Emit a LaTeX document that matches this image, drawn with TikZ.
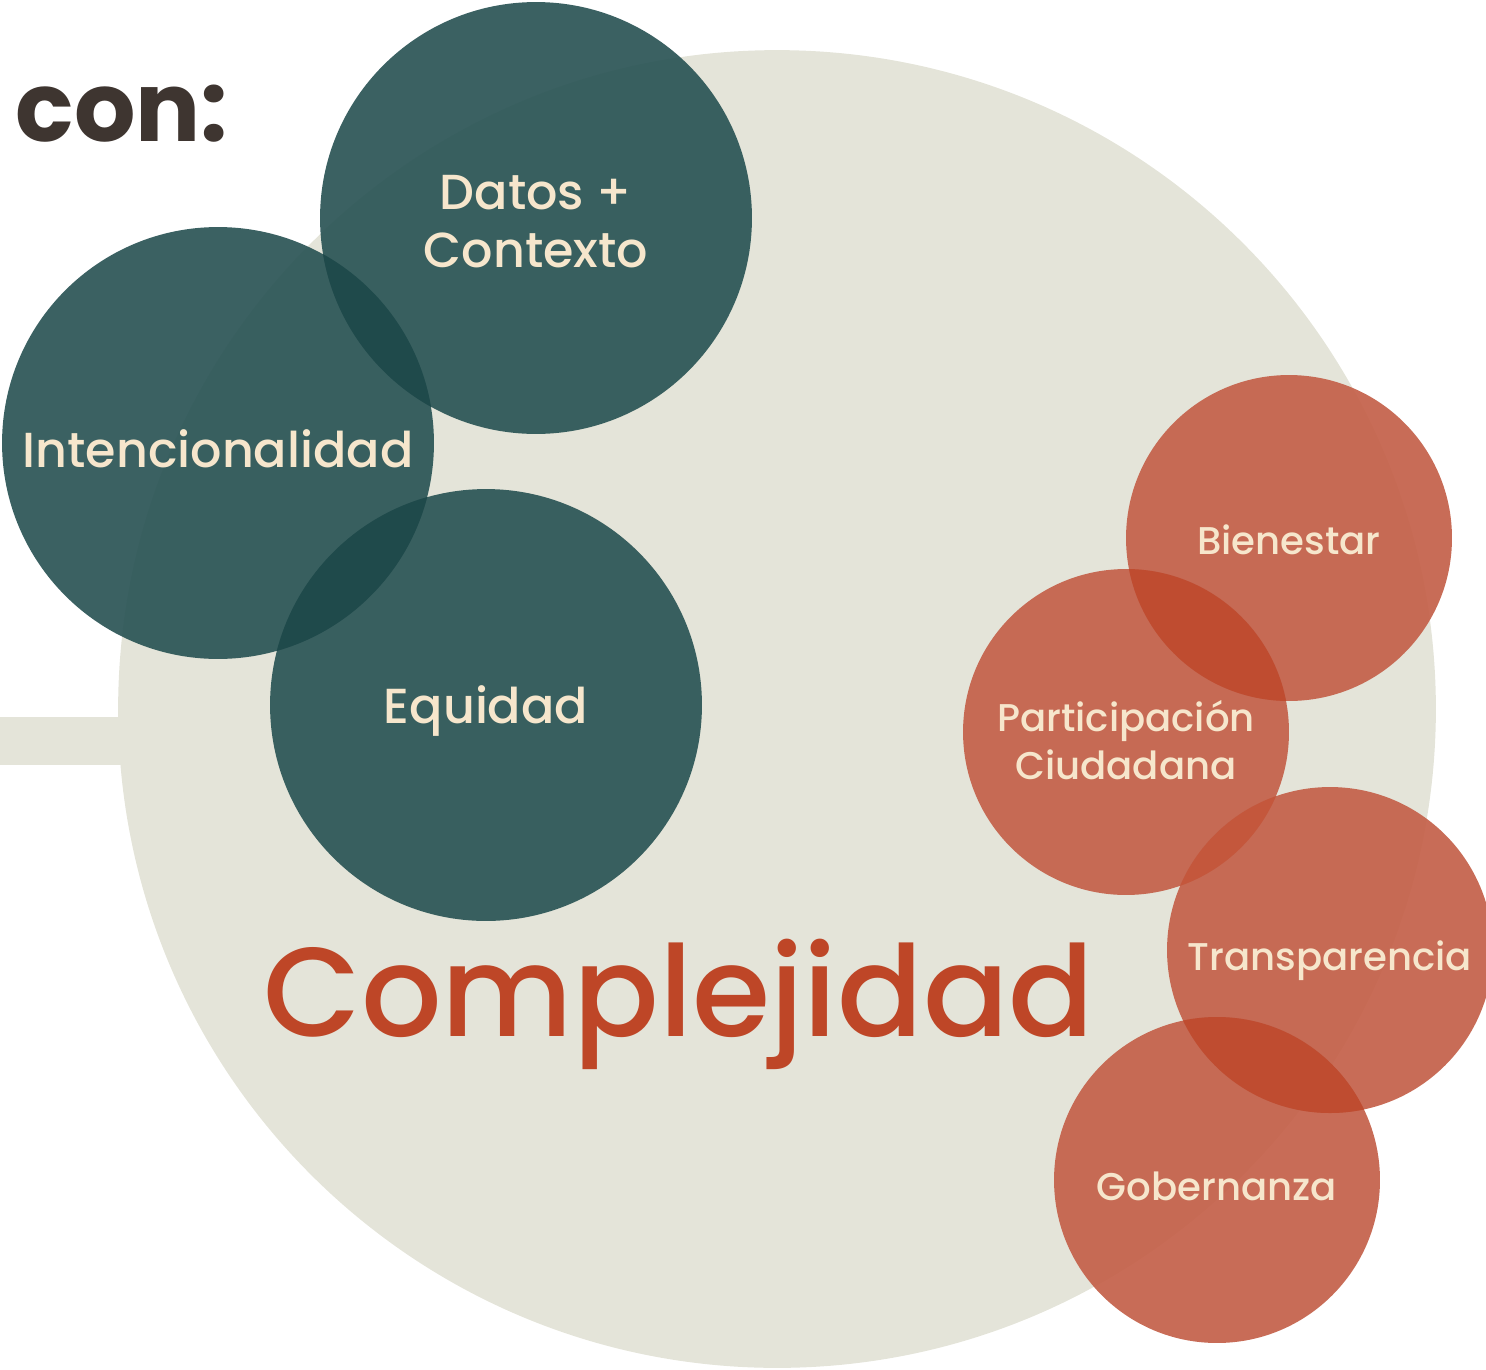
\documentclass[tikz,border=0pt]{standalone}
\usepackage{fontspec}
\setmainfont{Poppins}
\newfontfamily\medfont{Poppins Medium}
\definecolor{beige}{HTML}{E4E4D9}
\definecolor{tealc}{HTML}{2C5556}
\definecolor{tealdeep}{HTML}{1F4A4B}
\definecolor{rust}{HTML}{C4614A}
\definecolor{rustdeep}{HTML}{BF4C30}
\definecolor{rustmid}{HTML}{C4573C}
\definecolor{cream}{HTML}{F6E6CC}
\definecolor{cocoa}{HTML}{3E3530}
\definecolor{brick}{HTML}{BE4627}
% baja el texto sin cambiar la caja
\newcommand\lowertxt[2]{\raisebox{-#1}[\height][\depth]{#2}}
\begin{document}
\begin{tikzpicture}[x=0.02cm, y=0.02cm,
	tealdot/.style={circle, fill=tealc, fill opacity=0.93, text opacity=1, text=cream,
		minimum size=8.64cm, inner sep=0pt, align=center, font=\medfont\fontsize{28}{33}\selectfont},
	rustdot/.style={circle, fill=rust, fill opacity=0.93, text opacity=1, text=cream,
		minimum size=6.52cm, inner sep=0pt, align=center, font=\medfont\fontsize{22}{27}\selectfont}]
	\useasboundingbox (0,0) rectangle (1486,-1369);
	
	% fondo
	\fill[beige] (0,-717) rectangle (130,-765);
	\node[circle, fill=beige, minimum size=26.36cm, inner sep=0pt] (bigdisc) at (777,-709) {};
	\node[anchor=base, text=cocoa, font=\fontsize{55}{55}\selectfont\bfseries] (conlabel) at (122,-141) {con:};
	
	% circulos verdes
	\node[tealdot] (datos) at (536,-218) {\lowertxt{2.3pt}{Datos +}\\\lowertxt{2.3pt}{Contexto}};
	\node[tealdot] (intenc) at (218,-443) {\lowertxt{3.4pt}{Intencionalidad}};
	\node[tealdot] (equidad) at (486,-705) {\lowertxt{3.4pt}{Equidad}};
	\begin{scope}
		\clip (datos.center) circle (216);
		\fill[tealdeep] (intenc.center) circle (216);
	\end{scope}
	\begin{scope}
		\clip (equidad.center) circle (216);
		\fill[tealdeep] (intenc.center) circle (216);
	\end{scope}
	
	% circulos naranjas
	\node[rustdot] (bienestar) at (1289,-538) {\lowertxt{1.2pt}{Bienestar}};
	\node[rustdot] (particip) at (1126,-732) {\lowertxt{4.5pt}{Participación}\\\lowertxt{4.5pt}{Ciudadana}};
	\node[rustdot] (transp) at (1330,-950) {\lowertxt{6pt}{Transparencia}};
	\node[rustdot] (gobern) at (1217,-1180) {\lowertxt{3.4pt}{Gobernanza}};
	\begin{scope}
		\clip (bienestar.center) circle (163);
		\fill[rustdeep] (particip.center) circle (163);
	\end{scope}
	\begin{scope}
		\clip (particip.center) circle (163);
		\fill[rustmid] (transp.center) circle (163);
	\end{scope}
	\begin{scope}
		\clip (transp.center) circle (163);
		\fill[rustdeep] (gobern.center) circle (163);
	\end{scope}
	
	\node[anchor=base, text=brick, font=\medfont\fontsize{72}{72}\selectfont] (complejidad) at (679,-1036) {Complejidad};
\end{tikzpicture}
\end{document}
